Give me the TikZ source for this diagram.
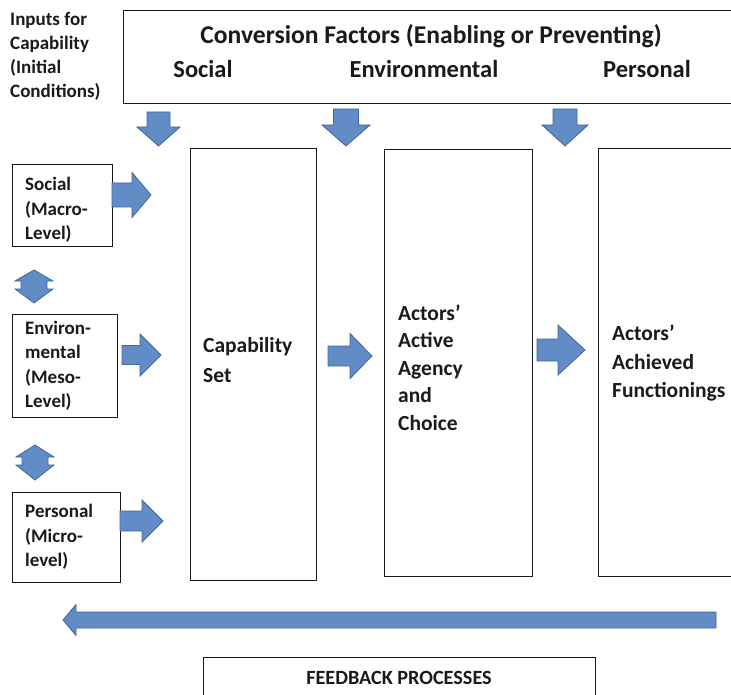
\documentclass[tikz,border=0pt]{standalone}
\usepackage{fontspec}
\setmainfont{Carlito}
\definecolor{afill}{HTML}{628CC6}
\definecolor{aline}{HTML}{41669B}
\definecolor{ink}{HTML}{1A1A1A}
\tikzset{
  box/.style={draw=ink, line width=1.2pt, fill=white, inner sep=0pt, anchor=north west},
  ba/.style={fill=afill, draw=aline, line width=0.8pt, line join=miter},
  lblS/.style={font=\bfseries\fontsize{19}{24.5}\selectfont, align=left, inner sep=0pt, anchor=west, text=ink},
  lblL/.style={font=\bfseries\fontsize{21.5}{27.5}\selectfont, align=left, inner sep=0pt, anchor=west, text=ink},
  ttl/.style={font=\bfseries\fontsize{24.5}{28}\selectfont, inner sep=0pt, text=ink},
}
% name, x, y (centre), rotation, length, head width, shaft width, head length
\newcommand{\myblockarrow}[8]{%
  \coordinate (#1) at (#2,#3);
  \draw[ba, shift={(#1)}, rotate=#4]
    ({-#5/2},{-#7/2}) -- ({#5/2-#8},{-#7/2}) -- ({#5/2-#8},{-#6/2}) --
    ({#5/2},0) -- ({#5/2-#8},{#6/2}) -- ({#5/2-#8},{#7/2}) --
    ({-#5/2},{#7/2}) -- cycle;}
% name, x, top y, head width, shaft width, top head, shaft length, bottom head
\newcommand{\mydoublearrow}[8]{%
  \coordinate (#1) at (#2,#3);
  \draw[ba, shift={(#1)}]
    (0,0) -- ({#4/2},#6) -- ({#5/2},#6) -- ({#5/2},{#6+#7}) -- ({#4/2},{#6+#7}) --
    (0,{#6+#7+#8}) -- ({-#4/2},{#6+#7}) -- ({-#5/2},{#6+#7}) -- ({-#5/2},#6) -- ({-#4/2},#6) -- cycle;}
\begin{document}
\begin{tikzpicture}[x=1pt,y=-1pt]
\useasboundingbox (0,0) rectangle (731,695);
\clip (0,0) rectangle (731,695);
\fill[white] (0,0) rectangle (731,695);

% top box
\node[box, minimum width=614pt, minimum height=93pt] (top) at (123,10) {};
\node[ttl, font=\bfseries\fontsize{25.6}{28}\selectfont] (ttl) at (431,36) {Conversion Factors (Enabling or Preventing)};
\node[ttl] (tsoc) at (203,69) {Social};
\node[ttl] (tenv) at (424,69) {Environmental};
\node[ttl] (tper) at (647,69) {Personal};

% inputs label
\node[lblS, font=\bfseries\fontsize{19}{24}\selectfont] (inputs) at (10,56) {Inputs for\\Capability\\(Initial\\Conditions)};

% left boxes
\node[box, minimum width=100pt, minimum height=82pt] (soc) at (12,164) {};
\node[lblS] (socT) at (25,210) {Social\\(Macro-\\Level)};
\node[box, minimum width=105pt, minimum height=103pt] (env) at (12,314) {};
\node[lblS] (envT) at (25,366) {Environ-\\mental\\(Meso-\\Level)};
\node[box, minimum width=108pt, minimum height=90pt] (pers) at (12,492) {};
\node[lblS] (persT) at (25,537) {Personal\\(Micro-\\level)};

% large boxes
\node[box, minimum width=126pt, minimum height=432pt] (cap) at (190,148) {};
\node[lblL, font=\bfseries\fontsize{21.5}{30}\selectfont] (capT) at (203,360) {Capability\\Set};
\node[box, minimum width=148pt, minimum height=427pt] (agency) at (384,149) {};
\node[lblL] (agT) at (398,367.5) {Actors’\\Active\\Agency\\and\\Choice};
\node[box, minimum width=140pt, minimum height=428pt] (ach) at (598,148) {};
\node[lblL, font=\bfseries\fontsize{21.5}{28.5}\selectfont] (achT) at (612,363) {Actors’\\Achieved\\Functionings};

% feedback box
\node[box, minimum width=392pt, minimum height=50pt] (fb) at (203,657) {};
\node[font=\bfseries\fontsize{20.2}{22}\selectfont, inner sep=0pt, text=ink] (fbT) at (399,678) {FEEDBACK PROCESSES};

% down arrows
\myblockarrow{d1}{158.5}{129}{-90}{34}{43}{23}{19}
\myblockarrow{d2}{346}{127.5}{-90}{37}{48}{25}{21}
\myblockarrow{d3}{565}{127.5}{-90}{37}{46}{24}{21}

% right arrows from the input boxes
\myblockarrow{r1}{131.5}{195}{0}{39}{45}{24}{19}
\myblockarrow{r2}{141.5}{355}{0}{39}{42}{19}{21}
\myblockarrow{r3}{141.5}{521}{0}{43}{42}{20}{21}

% arrows between large boxes
\myblockarrow{r4}{350}{356}{0}{44}{45}{20}{22}
\myblockarrow{r5}{561}{350}{0}{48}{50}{22}{27}

% double arrows
\mydoublearrow{u1}{34}{270}{38}{26}{11}{8}{14}
\mydoublearrow{u2}{35}{445}{38}{26}{12}{8}{15}

% feedback arrow
\myblockarrow{fa}{389.5}{620}{180}{653}{31}{16}{13}
\end{tikzpicture}
\end{document}
